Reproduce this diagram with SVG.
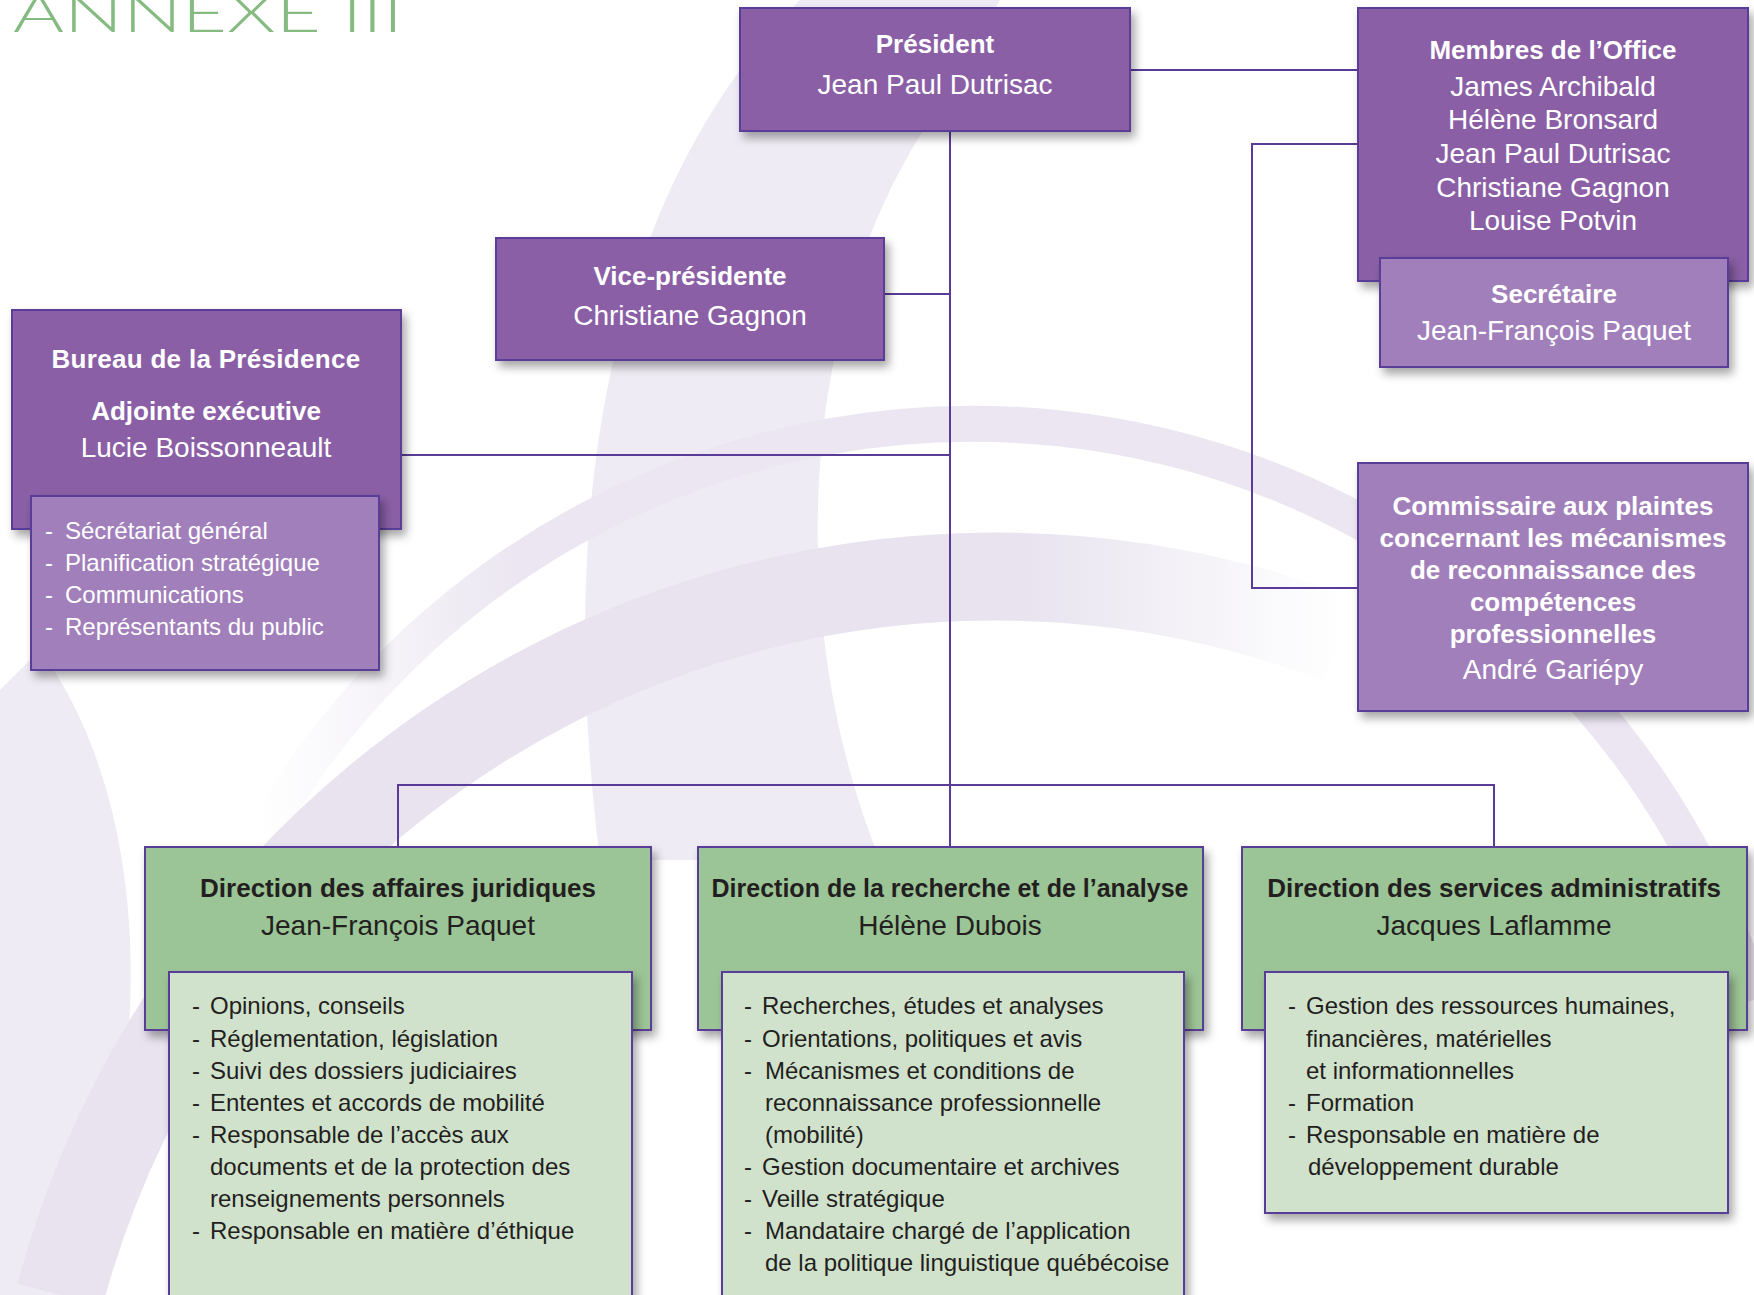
<svg xmlns="http://www.w3.org/2000/svg" width="1754" height="1295" viewBox="0 0 1754 1295">
<defs>
<filter id="sh" x="-10%" y="-10%" width="125%" height="130%">
<feDropShadow dx="4" dy="6" stdDeviation="5" flood-color="#000" flood-opacity="0.35"/>
</filter>
<linearGradient id="fadeR" x1="0" y1="0" x2="1" y2="0">
<stop offset="0" stop-color="#e8e3ef"/>
<stop offset="0.75" stop-color="#e8e3ef"/>
<stop offset="1" stop-color="#e8e3ef" stop-opacity="0"/>
</linearGradient>
<linearGradient id="fadeL" gradientUnits="userSpaceOnUse" x1="260" y1="0" x2="520" y2="0">
<stop offset="0" stop-color="#ebe6f1" stop-opacity="0"/>
<stop offset="1" stop-color="#ebe6f1"/>
</linearGradient>
<style>
.pbox{fill:#8a5ea6;stroke:#5a3c98;stroke-width:2;filter:url(#sh)}
.plight{fill:#a17fbb;stroke:#5a3c98;stroke-width:2;filter:url(#sh)}
.gbox{fill:#9cc597;stroke:#5a3c98;stroke-width:2;filter:url(#sh)}
.glight{fill:#d1e2cc;stroke:#5a3c98;stroke-width:2;filter:url(#sh)}
.conn{fill:none;stroke:#5a3c98;stroke-width:2}
.tb{font-family:"Liberation Sans",Arial,sans-serif;font-weight:bold;font-size:26px;text-anchor:middle}
.tn{font-family:"Liberation Sans",Arial,sans-serif;font-size:28px;text-anchor:middle}
.li{font-family:"Liberation Sans",Arial,sans-serif;font-size:24px}
.w{fill:#ffffff}
.d{fill:#231f20}
.bg1{fill:#efebf4}
</style>
</defs>
<rect width="1754" height="1295" fill="#ffffff"/>
<g id="background">
<path class="bg1" d="M 800,0 C 650,150 545,420 600,860 L 880,860 C 790,640 790,330 930,120 L 1000,0 Z"/>
<path class="bg1" d="M 40,650 C 150,800 160,1060 70,1295 L 0,1295 L 0,690 Z"/>
<path fill="none" stroke="url(#fadeL)" stroke-width="36" d="M 260,840 A 818,818 0 0 1 1754,1000"/>
<path fill="none" stroke="url(#fadeR)" stroke-width="88" d="M 60,1295 A 968,968 0 0 1 1340,640"/>
</g>
<text id="title" x="13" y="32" font-family="Lato,'Open Sans',sans-serif" font-weight="300" font-size="54" fill="#85bb80" textLength="390" lengthAdjust="spacingAndGlyphs">ANNEXE III</text>
<g id="connectors">
<path class="conn" d="M1130,70 H1358"/>
<path class="conn" d="M950,131 V847"/>
<path class="conn" d="M884,294 H950"/>
<path class="conn" d="M400,455 H950"/>
<path class="conn" d="M1358,144 H1252 V588 H1358"/>
<path class="conn" d="M398,847 V785 H1494 V847"/>
</g>
<g id="president">
<rect class="pbox" x="740" y="8" width="390" height="123"/>
<text class="tb w" x="935" y="53">Président</text>
<text class="tn w" x="935" y="94">Jean Paul Dutrisac</text>
</g>
<g id="vice-presidente">
<rect class="pbox" x="496" y="238" width="388" height="122"/>
<text class="tb w" x="690" y="285">Vice-présidente</text>
<text class="tn w" x="690" y="325">Christiane Gagnon</text>
</g>
<g id="bureau">
<rect class="pbox" x="12" y="310" width="389" height="219"/>
<text class="tb w" x="206" y="368" font-size="28" letter-spacing="0.3">Bureau de la Présidence</text>
<text class="tb w" x="206" y="420">Adjointe exécutive</text>
<text class="tn w" x="206" y="457">Lucie Boissonneault</text>
<rect class="plight" x="31" y="496" width="348" height="174"/>
<text class="li w" x="45" y="539">-</text><text class="li w" x="65" y="539">Sécrétariat général</text>
<text class="li w" x="45" y="571">-</text><text class="li w" x="65" y="571">Planification stratégique</text>
<text class="li w" x="45" y="603">-</text><text class="li w" x="65" y="603">Communications</text>
<text class="li w" x="45" y="635">-</text><text class="li w" x="65" y="635">Représentants du public</text>
</g>
<g id="membres">
<rect class="pbox" x="1358" y="8" width="390" height="273"/>
<text class="tb w" x="1553" y="59">Membres de l’Office</text>
<text class="tn w" x="1553" y="96">James Archibald</text>
<text class="tn w" x="1553" y="129">Hélène Bronsard</text>
<text class="tn w" x="1553" y="163">Jean Paul Dutrisac</text>
<text class="tn w" x="1553" y="197">Christiane Gagnon</text>
<text class="tn w" x="1553" y="230">Louise Potvin</text>
</g>
<g id="secretaire">
<rect class="plight" x="1380" y="258" width="348" height="109"/>
<text class="tb w" x="1554" y="303">Secrétaire</text>
<text class="tn w" x="1554" y="340">Jean-François Paquet</text>
</g>
<g id="commissaire">
<rect class="plight" x="1358" y="463" width="390" height="248"/>
<text class="tb w" x="1553" y="515">Commissaire aux plaintes</text>
<text class="tb w" x="1553" y="547">concernant les mécanismes</text>
<text class="tb w" x="1553" y="579">de reconnaissance des</text>
<text class="tb w" x="1553" y="611">compétences</text>
<text class="tb w" x="1553" y="643">professionnelles</text>
<text class="tn w" x="1553" y="679">André Gariépy</text>
</g>
<g id="dir-juridiques">
<rect class="gbox" x="145" y="847" width="506" height="183"/>
<text class="tb d" x="398" y="897">Direction des affaires juridiques</text>
<text class="tn d" x="398" y="935">Jean-François Paquet</text>
<rect class="glight" x="169" y="972" width="463" height="340"/>
<text class="li d" x="192" y="1014">-</text><text class="li d" x="210" y="1014">Opinions, conseils</text>
<text class="li d" x="192" y="1047">-</text><text class="li d" x="210" y="1047">Réglementation, législation</text>
<text class="li d" x="192" y="1079">-</text><text class="li d" x="210" y="1079">Suivi des dossiers judiciaires</text>
<text class="li d" x="192" y="1111">-</text><text class="li d" x="210" y="1111">Ententes et accords de mobilité</text>
<text class="li d" x="192" y="1143">-</text><text class="li d" x="210" y="1143">Responsable de l’accès aux</text>
<text class="li d" x="210" y="1175">documents et de la protection des</text>
<text class="li d" x="210" y="1207">renseignements personnels</text>
<text class="li d" x="192" y="1239">-</text><text class="li d" x="210" y="1239">Responsable en matière d’éthique</text>
</g>
<g id="dir-recherche">
<rect class="gbox" x="698" y="847" width="505" height="183"/>
<text class="tb d" x="950" y="897" textLength="477" lengthAdjust="spacingAndGlyphs">Direction de la recherche et de l’analyse</text>
<text class="tn d" x="950" y="935">Hélène Dubois</text>
<rect class="glight" x="722" y="972" width="462" height="340"/>
<text class="li d" x="744" y="1014">-</text><text class="li d" x="762" y="1014">Recherches, études et analyses</text>
<text class="li d" x="744" y="1047">-</text><text class="li d" x="762" y="1047">Orientations, politiques et avis</text>
<text class="li d" x="744" y="1079">-</text><text class="li d" x="765" y="1079">Mécanismes et conditions de</text>
<text class="li d" x="765" y="1111">reconnaissance professionnelle</text>
<text class="li d" x="765" y="1143">(mobilité)</text>
<text class="li d" x="744" y="1175">-</text><text class="li d" x="762" y="1175">Gestion documentaire et archives</text>
<text class="li d" x="744" y="1207">-</text><text class="li d" x="762" y="1207">Veille stratégique</text>
<text class="li d" x="744" y="1239">-</text><text class="li d" x="765" y="1239">Mandataire chargé de l’application</text>
<text class="li d" x="765" y="1271">de la politique linguistique québécoise</text>
</g>
<g id="dir-administratifs">
<rect class="gbox" x="1242" y="847" width="505" height="183"/>
<text class="tb d" x="1494" y="897">Direction des services administratifs</text>
<text class="tn d" x="1494" y="935">Jacques Laflamme</text>
<rect class="glight" x="1265" y="972" width="463" height="241"/>
<text class="li d" x="1288" y="1014">-</text><text class="li d" x="1306" y="1014">Gestion des ressources humaines,</text>
<text class="li d" x="1306" y="1047">financières, matérielles</text>
<text class="li d" x="1306" y="1079">et informationnelles</text>
<text class="li d" x="1288" y="1111">-</text><text class="li d" x="1306" y="1111">Formation</text>
<text class="li d" x="1288" y="1143">-</text><text class="li d" x="1306" y="1143">Responsable en matière de</text>
<text class="li d" x="1308" y="1175">développement durable</text>
</g>
</svg>
